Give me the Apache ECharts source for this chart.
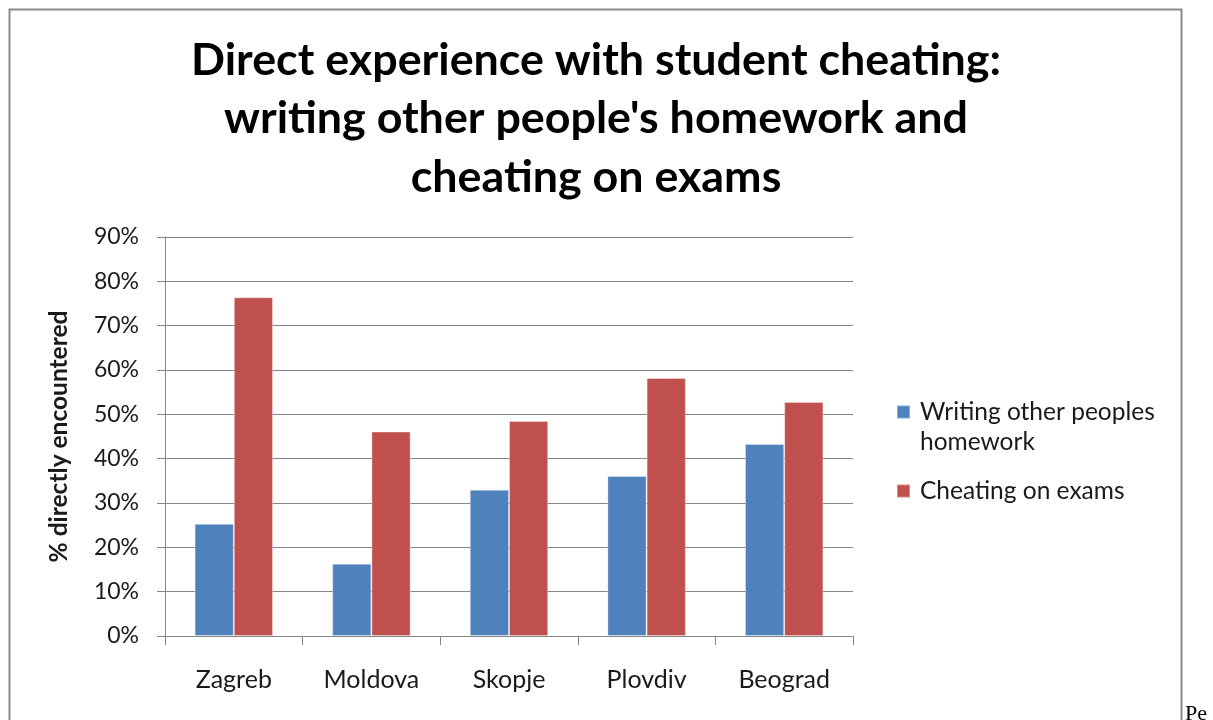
<!DOCTYPE html>
<html>
<head>
<meta charset="utf-8">
<script src="https://cdn.jsdelivr.net/npm/echarts@6/dist/echarts.min.js"></script>
<style>
  html, body { margin: 0; padding: 0; background: #fff; }
  #chart { width: 1213px; height: 720px; }
</style>
</head>
<body>
<div id="chart"></div>
<script>
// Survey results: share of respondents who directly encountered each form of cheating
const cities = ['Zagreb', 'Moldova', 'Skopje', 'Plovdiv', 'Beograd'];
const homework = [25.3, 16.3, 33.0, 36.1, 43.3];
const exams = [76.4, 46.1, 48.5, 58.2, 52.8];
const seriesNames = ['Writing other peoples homework', 'Cheating on exams'];
const yTicks = { min: 0, max: 90, step: 10 };

const FONT = 'Lato';
const GRID_GRAY = '#878787';

const chart = echarts.init(document.getElementById('chart'), null, { renderer: 'canvas' });

chart.setOption({
  backgroundColor: '#ffffff',
  animation: false,
  title: {
    text: "Direct experience with student cheating:\nwriting other people's homework and\ncheating on exams",
    left: 596,
    top: 31,
    textAlign: 'center',
    padding: 0,
    textStyle: {
      fontFamily: FONT,
      fontWeight: 'bold',
      fontSize: 44.8,
      lineHeight: 58.5,
      color: '#000'
    }
  },
  legend: {
    orient: 'vertical',
    left: 896,
    top: 367,
    padding: 0,
    icon: 'rect',
    itemWidth: 13,
    itemHeight: 13,
    itemGap: 19,
    data: seriesNames,
    formatter: function (name) {
      // keep the marker beside the first line of the wrapped name
      return name === seriesNames[0] ? '\nWriting other peoples\nhomework' : name;
    },
    textStyle: {
      fontFamily: FONT,
      fontSize: 24.5,
      lineHeight: 30,
      color: '#1a1a1a',
      padding: [0, 0, 0, 5]
    }
  },
  grid: {
    left: 165,
    right: 360,
    top: 237,
    bottom: 84,
    containLabel: false
  },
  xAxis: {
    type: 'category',
    data: cities,
    axisLine: { lineStyle: { color: GRID_GRAY, width: 1 } },
    axisTick: { show: true, alignWithLabel: false, length: 9, lineStyle: { color: GRID_GRAY } },
    axisLabel: {
      fontFamily: FONT,
      fontSize: 25,
      color: '#1a1a1a',
      margin: 31
    }
  },
  yAxis: {
    type: 'value',
    min: yTicks.min,
    max: yTicks.max,
    interval: yTicks.step,
    name: '% directly encountered',
    nameLocation: 'middle',
    nameRotate: 90,
    nameGap: 93,
    nameTextStyle: {
      fontFamily: FONT,
      fontWeight: 'bold',
      fontSize: 24.5,
      color: '#1a1a1a'
    },
    axisLine: { show: true, lineStyle: { color: GRID_GRAY, width: 1 } },
    axisTick: { show: true, inside: false, length: 8, lineStyle: { color: GRID_GRAY } },
    splitLine: { show: true, lineStyle: { color: GRID_GRAY, width: 1 } },
    axisLabel: {
      fontFamily: FONT,
      fontSize: 23,
      color: '#1a1a1a',
      margin: 26,
      formatter: '{value}%'
    }
  },
  series: [
    {
      name: seriesNames[0],
      type: 'bar',
      data: homework,
      barGap: '0%',
      barCategoryGap: '43%',
      itemStyle: { color: '#4F81BD', borderColor: 'rgba(255,255,255,0.35)', borderWidth: 1 }
    },
    {
      name: seriesNames[1],
      type: 'bar',
      data: exams,
      barGap: '0%',
      barCategoryGap: '43%',
      itemStyle: { color: '#C0504D', borderColor: 'rgba(255,255,255,0.35)', borderWidth: 1 }
    }
  ],
  graphic: [
    {
      type: 'rect',
      silent: true,
      shape: { x: 9.5, y: 9.5, width: 1172, height: 760 },
      style: { fill: null, stroke: '#8a8a8a', lineWidth: 2 }
    },
    {
      type: 'text',
      silent: true,
      left: 1185,
      top: 703,
      style: {
        text: 'Pe',
        fontFamily: 'Liberation Serif',
        fontSize: 22,
        fill: '#000'
      }
    }
  ]
});
</script>
</body>
</html>
